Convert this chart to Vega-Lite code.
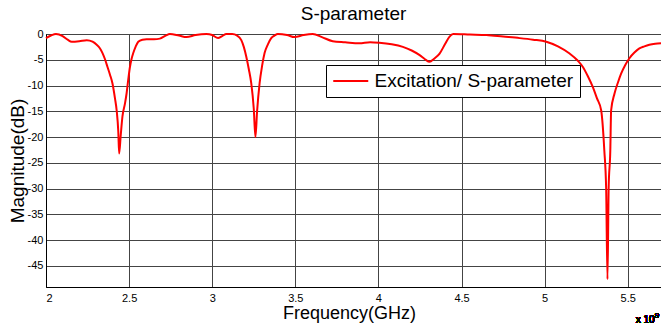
{
  "$schema": "https://vega.github.io/schema/vega-lite/v6.json",
  "width": 615,
  "height": 253,
  "autosize": "none",
  "padding": {"left": 46, "top": 34, "right": 0, "bottom": 38},
  "background": "white",
  "config": {
    "font": "Liberation Sans",
    "view": {"stroke": "black", "strokeWidth": 1},
    "axis": {"labelFont": "Liberation Sans", "titleFont": "Liberation Sans", "labelColor": "black", "titleColor": "black", "titleFontWeight": "normal", "gridColor": "#444", "gridOpacity": 1, "gridWidth": 1, "domainColor": "black", "ticks": false, "labelOverlap": false}
  },
  "title": {"text": "S-parameter", "fontSize": 19, "fontWeight": "normal", "font": "Liberation Sans", "offset": 4, "color": "black"},
  "data": {"values": [
    {"f": 2.00, "db": -0.8}, {"f": 2.03, "db": -0.3}, {"f": 2.06, "db": 0}, {"f": 2.10, "db": -0.4},
    {"f": 2.13, "db": -1.1}, {"f": 2.155, "db": -1.5}, {"f": 2.20, "db": -1.4}, {"f": 2.245, "db": -1.2},
    {"f": 2.28, "db": -1.5}, {"f": 2.305, "db": -2.1}, {"f": 2.325, "db": -2.8}, {"f": 2.34, "db": -3.7},
    {"f": 2.355, "db": -4.9}, {"f": 2.37, "db": -6.4}, {"f": 2.385, "db": -7.9}, {"f": 2.40, "db": -9.6},
    {"f": 2.415, "db": -12.5}, {"f": 2.425, "db": -14.8}, {"f": 2.435, "db": -19}, {"f": 2.44, "db": -23.2},
    {"f": 2.45, "db": -19.5}, {"f": 2.46, "db": -16}, {"f": 2.475, "db": -13.5}, {"f": 2.485, "db": -11.5},
    {"f": 2.495, "db": -8.8}, {"f": 2.505, "db": -6.4}, {"f": 2.515, "db": -4.8}, {"f": 2.525, "db": -3.7},
    {"f": 2.54, "db": -2.4}, {"f": 2.555, "db": -1.5}, {"f": 2.58, "db": -1.1}, {"f": 2.605, "db": -1.0},
    {"f": 2.65, "db": -1.0}, {"f": 2.685, "db": -0.9}, {"f": 2.72, "db": -0.3}, {"f": 2.745, "db": 0},
    {"f": 2.80, "db": -0.3}, {"f": 2.845, "db": -0.6}, {"f": 2.90, "db": -0.2}, {"f": 2.965, "db": 0},
    {"f": 3.00, "db": -0.2}, {"f": 3.035, "db": -0.8}, {"f": 3.06, "db": -0.4}, {"f": 3.085, "db": 0},
    {"f": 3.12, "db": 0}, {"f": 3.15, "db": -0.3}, {"f": 3.175, "db": -1.2}, {"f": 3.19, "db": -2.5},
    {"f": 3.205, "db": -4.4}, {"f": 3.22, "db": -6.8}, {"f": 3.235, "db": -9.6}, {"f": 3.25, "db": -14.5},
    {"f": 3.26, "db": -20}, {"f": 3.27, "db": -15}, {"f": 3.285, "db": -9.6}, {"f": 3.30, "db": -6.2},
    {"f": 3.315, "db": -3.7}, {"f": 3.335, "db": -2.0}, {"f": 3.355, "db": -0.8}, {"f": 3.375, "db": -0.3},
    {"f": 3.395, "db": 0}, {"f": 3.45, "db": -0.2}, {"f": 3.495, "db": -0.6}, {"f": 3.55, "db": -0.2},
    {"f": 3.605, "db": 0}, {"f": 3.66, "db": -0.6}, {"f": 3.725, "db": -1.4}, {"f": 3.80, "db": -1.6},
    {"f": 3.885, "db": -1.8}, {"f": 3.95, "db": -1.6}, {"f": 4.005, "db": -1.7}, {"f": 4.08, "db": -2.0},
    {"f": 4.147, "db": -2.5}, {"f": 4.20, "db": -3.2}, {"f": 4.248, "db": -4.1}, {"f": 4.28, "db": -4.9},
    {"f": 4.308, "db": -5.4}, {"f": 4.335, "db": -4.8}, {"f": 4.368, "db": -3.8}, {"f": 4.40, "db": -2.0},
    {"f": 4.428, "db": -0.5}, {"f": 4.45, "db": 0}, {"f": 4.55, "db": -0.1}, {"f": 4.65, "db": -0.2},
    {"f": 4.75, "db": -0.5}, {"f": 4.85, "db": -0.8}, {"f": 4.93, "db": -1.1}, {"f": 5.01, "db": -1.5},
    {"f": 5.08, "db": -2.4}, {"f": 5.15, "db": -3.8}, {"f": 5.20, "db": -5.2}, {"f": 5.23, "db": -6.4},
    {"f": 5.26, "db": -8.2}, {"f": 5.29, "db": -10.3}, {"f": 5.315, "db": -12.5}, {"f": 5.34, "db": -14.8},
    {"f": 5.359, "db": -22.6}, {"f": 5.37, "db": -30}, {"f": 5.378, "db": -47.6}, {"f": 5.385, "db": -30},
    {"f": 5.395, "db": -22.6}, {"f": 5.40, "db": -14.8}, {"f": 5.42, "db": -11.6}, {"f": 5.44, "db": -9.5},
    {"f": 5.46, "db": -7.7}, {"f": 5.485, "db": -6}, {"f": 5.51, "db": -4.7}, {"f": 5.54, "db": -3.6},
    {"f": 5.57, "db": -2.8}, {"f": 5.60, "db": -2.4}, {"f": 5.63, "db": -2.1}, {"f": 5.665, "db": -1.9},
    {"f": 5.70, "db": -1.8}
  ]},
  "layer": [
    {
      "mark": {"type": "line", "strokeWidth": 2, "interpolate": "monotone", "clip": false},
      "encoding": {
        "x": {"field": "f", "type": "quantitative", "scale": {"domain": [2, 5.7], "nice": false, "zero": false},
          "axis": {"values": [2, 2.5, 3, 3.5, 4, 4.5, 5, 5.5], "tickCount": 20, "labelExpr": "datum.value + ''", "labelFontSize": 11, "labelPadding": 5, "title": "Frequency(GHz)", "titleFontSize": 18, "titlePadding": 1, "titleX": 303, "grid": true}},
        "y": {"field": "db", "type": "quantitative", "scale": {"domain": [-49.1, 0], "nice": false, "zero": false},
          "axis": {"values": [-45, -40, -35, -30, -25, -20, -15, -10, -5, 0], "tickCount": 20, "labelExpr": "datum.value + ''", "labelFontSize": 11, "labelPadding": 3, "title": "Magnitude(dB)", "titleFontSize": 19, "titlePadding": 0, "grid": true}},
        "color": {"datum": "Excitation/ S-parameter", "type": "nominal",
          "scale": {"domain": ["Excitation/ S-parameter"], "range": ["#ff0000"]},
          "legend": {"title": null, "orient": "none", "legendX": 280, "legendY": 31, "symbolType": "M-2,0H2", "symbolSize": 306.25, "symbolStrokeWidth": 2, "symbolOffset": 8.75, "labelFontSize": 19, "labelFont": "Liberation Sans", "labelColor": "black", "labelOffset": 13.75, "labelLimit": 400, "padding": 6, "strokeColor": "black", "fillColor": "white", "cornerRadius": 0}}
      }
    },
    {
      "mark": {"type": "text", "fontSize": 10, "font": "Liberation Sans", "align": "left", "baseline": "alphabetic", "dy": 36, "dx": 8},
      "encoding": {"x": {"datum": 5.5}, "y": {"datum": -49.1}, "text": {"value": "x 10"}}
    },
    {
      "mark": {"type": "text", "fontSize": 8, "font": "Liberation Sans", "align": "left", "baseline": "alphabetic", "dy": 31, "dx": 27},
      "encoding": {"x": {"datum": 5.5}, "y": {"datum": -49.1}, "text": {"value": "9"}}
    }
  ]
}
